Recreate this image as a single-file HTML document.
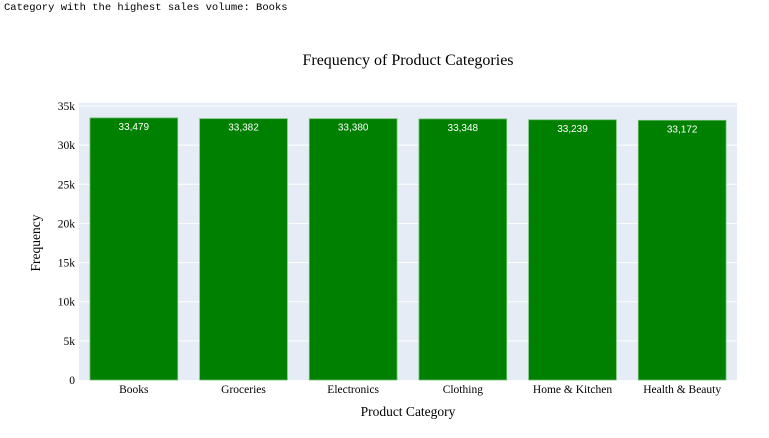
<!DOCTYPE html>
<html><head><meta charset="utf-8"><style>
body{margin:0;background:#fff;width:769px;height:438px;overflow:hidden}
#hdr{position:absolute;left:4px;top:2px;font:10.5px "Liberation Mono",monospace;color:#000;white-space:pre}
</style></head><body>
<div id="hdr">Category with the highest sales volume: Books</div>
<svg id="c" width="769" height="438" style="position:absolute;left:0;top:0"></svg>
<script>
const categories=["Books","Groceries","Electronics","Clothing","Home & Kitchen","Health & Beauty"];
const values=[33479,33382,33380,33348,33239,33172];
const tickValues=[0,5000,10000,15000,20000,25000,30000,35000];
const tickLabels=["0","5k","10k","15k","20k","25k","30k","35k"];
const NS="http://www.w3.org/2000/svg";
const svg=document.getElementById('c');
const L=79,R=737,T=106,B=380,yMax=35000;
const y=v=>B-(v/yMax)*(B-T);
const band=(R-L)/categories.length;
const x=i=>L+band*i;
function mk(t,a,p){const e=document.createElementNS(NS,t);for(const k in a)e.setAttribute(k,a[k]);(p||svg).appendChild(e);return e;}
const bg=mk('rect',{x:L,y:T-3,width:R-L,height:B-T+3,fill:'#e5ecf6'});


tickValues.forEach((v,i)=>{
  if(v>0){const g=mk('line',{x1:L,x2:R,y1:y(v),y2:y(v),stroke:'#fff','stroke-width':1});
  
  }
  const t=mk('text',{x:L-4,y:y(v)+4,'text-anchor':'end','font-family':'Liberation Serif,serif','font-size':11.5,fill:'#000'});
  t.textContent=tickLabels[i];
  
  
});
categories.forEach((c,i)=>{
  const bw=band*0.8,bx=x(i)+band*0.1;
  const r=mk('rect',{x:bx,y:y(values[i]),width:bw,height:B-y(values[i]),fill:'#008000',stroke:'#6fbf6f','stroke-width':0.8});
  
  
  const v=mk('text',{x:bx+bw/2,y:y(values[i])+12,'text-anchor':'middle','font-family':'Liberation Sans,sans-serif','font-size':10,fill:'#fff'});
  v.textContent=values[i].toLocaleString('en-US');
  
  
  const t=mk('text',{x:bx+bw/2,y:B+13,'text-anchor':'middle','font-family':'Liberation Serif,serif','font-size':11.5,fill:'#000'});
  t.textContent=c;
  
  
});
const ti=mk('text',{x:408,y:65,'text-anchor':'middle','font-family':'Liberation Serif,serif','font-size':16,fill:'#000'});
ti.textContent='Frequency of Product Categories';


const xt=mk('text',{x:408,y:416,'text-anchor':'middle','font-family':'Liberation Serif,serif','font-size':13.5,fill:'#000'});
xt.textContent='Product Category';


const yt=mk('text',{x:0,y:0,'text-anchor':'middle','font-family':'Liberation Serif,serif','font-size':13.5,fill:'#000',transform:'translate(40,243) rotate(-90)'});
yt.textContent='Frequency';


</script>
</body></html>
